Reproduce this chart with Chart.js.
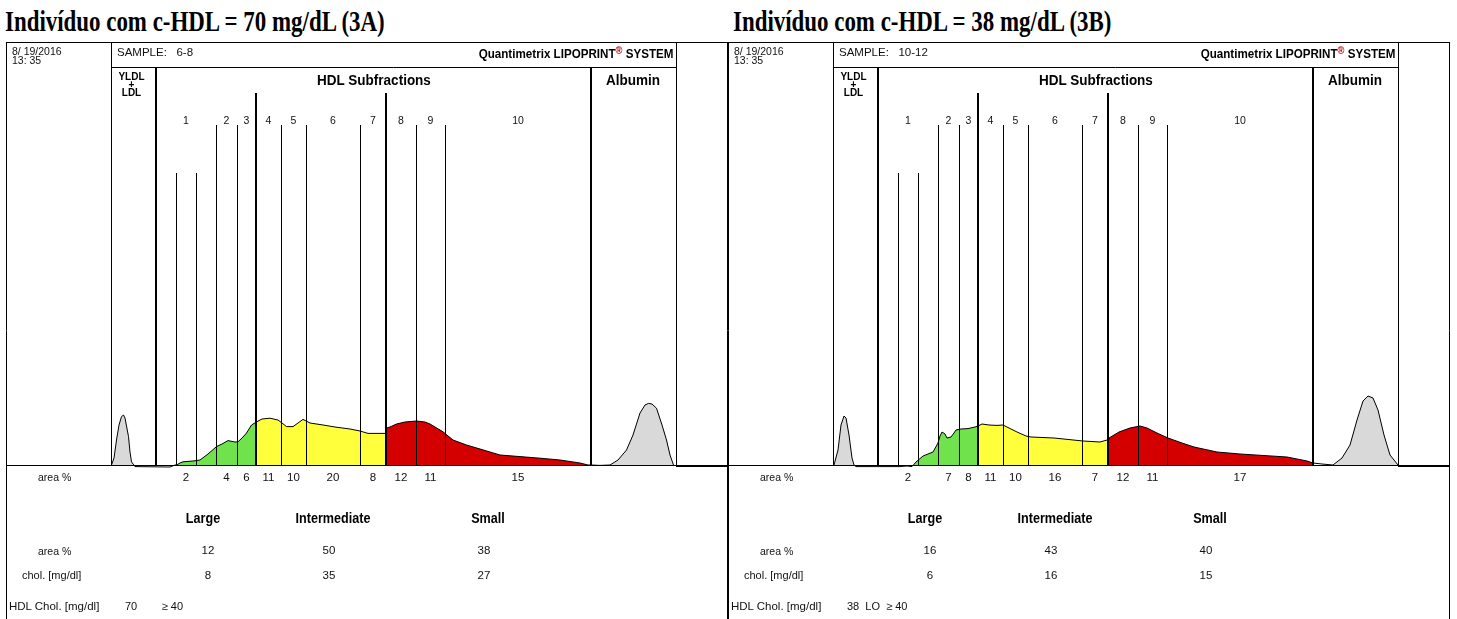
<!DOCTYPE html>
<html>
<head>
<meta charset="utf-8">
<script src="https://cdn.jsdelivr.net/npm/chart.js@4.4.1/dist/chart.umd.min.js"></script>
<style>
  body { margin: 0; background: #fff; width: 1457px; height: 619px; overflow: hidden; position: relative;
         font-family: "Liberation Sans", Arial, sans-serif; color: #111; }
  .title { position: absolute; top: 7px; font-family: "Liberation Serif", "Times New Roman", serif; font-weight: bold;
           font-size: 29px; line-height: 1; white-space: nowrap; color: #000;
           transform: scaleX(0.79); transform-origin: left top; }
  .panel { position: absolute; top: 0; width: 722px; height: 619px; }
  .panel canvas { position: absolute; left: 0; top: 42px; }
  .t { position: absolute; white-space: nowrap; font-size: 11px; line-height: 1; transform-origin: left top; }
  .c { transform: translateX(-50%); transform-origin: center top; text-align: center; }
  .b { font-weight: bold; color: #000; }
  .reg { color: #b00000; font-size: 10px; vertical-align: 4px; }
</style>
</head>
<body>
<div class="title" style="left:5px">Indivíduo com c-HDL = 70 mg/dL (3A)</div>
<div class="title" style="left:733px">Indivíduo com c-HDL = 38 mg/dL (3B)</div>
<div class="panel" id="panelA" style="left:6px"><canvas id="chartA" width="722" height="577"></canvas></div>
<div class="panel" id="panelB" style="left:728px"><canvas id="chartB" width="722" height="577"></canvas></div>
<script>
// subfractions 1..10 on the migration axis
const fracLabels = ['1', '2', '3', '4', '5', '6', '7', '8', '9', '10'];
const fracStart = [34, 42, 46.2, 50, 55, 60, 70.8, 76, 82, 87.8];
const fracEnd = [38, 46.2, 50, 55, 60, 70.8, 76, 82, 87.8, 117];
const areaA = [2, 4, 6, 11, 10, 20, 8, 12, 11, 15];
const areaB = [2, 7, 8, 11, 10, 16, 7, 12, 11, 17];

// separator lines
const shortMarks = [34, 38];
const midMarks = [42, 46.2, 55, 60, 70.8, 82, 87.8];
const majorMarks = [50, 76];
const vldlEdge = 21, hdlStart = 30, hdlEnd = 117, albEnd = 134;

// coloured zones (vldl, large, intermediate, small, albumin)
const zoneStart = [21, 34, 50, 76, 118];
const zoneEnd = [26, 50, 76, 117, 135];

const groups = ['Large', 'Intermediate', 'Small'];
const groupAreaA = [12, 50, 38];
const groupCholA = [8, 35, 27];
const groupAreaB = [16, 43, 40];
const groupCholB = [6, 16, 15];

// densitometry scans
const scanAx = [21.1,21.6,22.1,22.6,23.1,23.5,23.8,24.5,24.8,25.1,25.8,32.8,33.8,34.1,34.8,35.4,37.4,38.8,40.4,42.1,
  43.2,44.4,45.8,46.4,47.4,48.1,49.1,50,51.2,52.8,54.4,55.2,56.1,57.4,58.4,59.4,60.8,63.4,65.8,68.8,
  70.8,72.4,76,76.1,76.8,78.1,79.8,82.1,83.8,84.8,87.4,89.4,92.1,94.8,98.8,102.8,106.8,110.8,114.8,116.4,
  117,118.8,120.8,122.4,124.1,125.4,126.8,127.8,128.5,129.2,130.1,131.2,132.1,132.8,133.5];
const scanAy = [0,1.75,6.25,10,12.1,12.5,11.75,7.1,3.25,0.8,-0.4,-0.5,0,0,0.5,0.8,1,1.25,2.75,4.6,
  5.25,6.1,5.75,5.8,7,8,10,10.7,11.5,11.7,11.25,10.5,9.6,9.6,10.5,11.4,10.5,10,9.5,9,
  8.5,7.9,7.9,9.25,9.5,10.25,10.75,11,10.75,10.25,8.3,6.25,5,4,2.5,2.1,1.7,1.25,0.5,0,
  0,-0.1,0,1.25,3.75,7.5,13,15,15.4,15.25,14.2,10,6.25,2.5,0];
const scanBx = [21.2,22,22.6,23.2,23.6,24.2,24.8,25.2,25.6,34.4,35.8,36.8,37.6,39,41,42,42.4,42.8,43.4,43.8,
  44.6,45.2,45.6,46.6,48,49.4,50,50.8,52.2,53.8,55,55.8,57.8,59.6,60.6,65.2,71,74.4,75.8,76,
  76.2,78.2,80.4,82.4,83.8,85.8,88,90.8,93.2,97.8,102.4,106.8,111.8,115.8,117,118.8,121,122.8,124.4,125.8,
  127,128,129,130,131.2,132.4,134];
const scanBy = [0,3.75,10,12.25,11.75,7.5,1.75,0,-0.4,-0.4,-0.25,-0.4,0.75,2.25,3.25,5.5,7.25,8.25,7.75,6.75,
  7,8,8.75,9,9.1,9.5,9.75,10.25,10,9.9,10,9.5,8.25,7.25,7,6.75,6,5.75,6.25,6.25,
  6.75,8.25,9.25,9.75,9.25,8,6.75,5.5,4.5,3.25,2.75,2.4,2,1,0.5,0.25,0,1.75,5,11.25,
  16,17.25,16.75,13.75,7.5,2.5,0];

const zoneColors = ['#d9d9d9', '#70e34c', '#ffff3c', '#d40000', '#d9d9d9'];

function zoneColor(v) {
  for (let i = 0; i < zoneStart.length; i++) {
    if (v >= zoneStart[i] && v <= zoneEnd[i]) return zoneColors[i];
  }
  return 'rgba(0,0,0,0)';
}

const framePlugin = {
  id: 'frame',
  afterDatasetsDraw(chart) {
    const { ctx, width, height } = chart;
    const x = chart.scales.x, y = chart.scales.y;
    const base = Math.round(y.getPixelForValue(0));
    const head = 25;
    const px = v => Math.round(x.getPixelForValue(v));
    const line = (x1, y1, x2, y2, w) => {
      ctx.lineWidth = w;
      ctx.beginPath();
      ctx.moveTo(x1, y1);
      ctx.lineTo(x2, y2);
      ctx.stroke();
    };
    ctx.save();
    ctx.strokeStyle = '#000';
    // outer box
    line(0.5, 0, 0.5, height, 1);
    line(width - 0.5, 0, width - 0.5, height, 1);
    line(0, 0.5, width, 0.5, 1);
    // header box + columns
    line(px(vldlEdge), head + 0.5, px(albEnd), head + 0.5, 1);
    line(px(vldlEdge) + 0.5, 0, px(vldlEdge) + 0.5, base, 1);
    line(px(albEnd) + 0.5, 0, px(albEnd) + 0.5, base, 1);
    line(px(hdlStart), head, px(hdlStart), base, 2);
    line(px(hdlEnd), head, px(hdlEnd), base, 2);
    // subfraction separators
    shortMarks.forEach(v => line(px(v) + 0.5, y.getPixelForValue(73), px(v) + 0.5, base, 1));
    midMarks.forEach(v => line(px(v) + 0.5, y.getPixelForValue(85), px(v) + 0.5, base, 1));
    majorMarks.forEach(v => line(px(v), y.getPixelForValue(93), px(v), base, 2));
    // baseline
    line(0, base + 0.5, width, base + 0.5, 1);
    line(px(albEnd), base + 1.5, width, base + 1.5, 1);
    ctx.restore();
  }
};

function makeChart(id, xs, ys) {
  return new Chart(document.getElementById(id), {
    type: 'line',
    data: {
      datasets: [{
        data: xs.map((v, i) => ({ x: v, y: ys[i] })),
        borderColor: '#000',
        borderWidth: 1,
        pointRadius: 0,
        tension: 0,
        fill: 'origin',
        clip: false,
        segment: {
          backgroundColor: c => zoneColor((c.p0.parsed.x + c.p1.parsed.x) / 2)
        }
      }]
    },
    options: {
      responsive: false,
      animation: false,
      events: [],
      layout: { padding: { top: 23, bottom: 154, left: 0, right: 0 } },
      plugins: { legend: { display: false }, tooltip: { enabled: false } },
      scales: {
        x: { type: 'linear', min: 0, max: 144.4, display: false },
        y: { min: 0, max: 100, display: false }
      }
    },
    plugins: [framePlugin]
  });
}

function addText(panel, html, left, top, cls, extra) {
  const el = document.createElement('div');
  el.className = 't ' + (cls || '');
  el.innerHTML = html;
  el.style.left = left + 'px';
  el.style.top = top + 'px';
  if (extra) Object.assign(el.style, extra);
  panel.appendChild(el);
  return el;
}

function buildPanel(panelId, chart, sample, area, gArea, gChol, hdlHtml) {
  const p = document.getElementById(panelId);
  const sx = v => chart.scales.x.getPixelForValue(v);
  const squeeze = 'translateX(-50%) scaleX(0.9)';
  addText(p, '8/ 19/2016<br>13: 35', 6, 47, '', { lineHeight: '9px', fontSize: '10.5px' });
  addText(p, 'SAMPLE:&nbsp;&nbsp;&nbsp;' + sample, 111, 47, '', { fontSize: '11.5px' });
  addText(p, 'Quantimetrix LIPOPRINT<span class="reg">&reg;</span> SYSTEM', 0, 46, 'b',
    { left: 'auto', right: '55px', fontSize: '12.5px', transform: 'scaleX(0.93)', transformOrigin: 'right top' });
  addText(p, 'YLDL<br>+<br>LDL', sx((vldlEdge + hdlStart) / 2) - 2, 73, 'b c', { fontSize: '10px', lineHeight: '8px' });
  addText(p, 'HDL Subfractions', sx((hdlStart + hdlEnd) / 2), 72, 'b c', { fontSize: '15px', transform: squeeze });
  addText(p, 'Albumin', sx((hdlEnd + albEnd) / 2) - 1, 72, 'b c', { fontSize: '15px', transform: squeeze });
  fracLabels.forEach((f, i) => addText(p, f, sx((fracStart[i] + fracEnd[i]) / 2), 115, 'c', { fontSize: '10.5px' }));
  addText(p, 'area %', 32, 472, '', { fontSize: '10.5px' });
  area.forEach((a, i) => addText(p, a, sx((fracStart[i] + fracEnd[i]) / 2), 472, 'c', { fontSize: '11.5px' }));
  const gHead = [197, 327, 482], gVal = [202, 323, 478];
  groups.forEach((g, i) => addText(p, g, gHead[i], 511, 'b c', { fontSize: '14px', transform: squeeze }));
  addText(p, 'area %', 32, 546, '', { fontSize: '10.5px' });
  gArea.forEach((a, i) => addText(p, a, gVal[i], 545, 'c', { fontSize: '11.5px' }));
  addText(p, 'chol. [mg/dl]', 16, 570, '', { fontSize: '11px' });
  gChol.forEach((a, i) => addText(p, a, gVal[i], 570, 'c', { fontSize: '11.5px' }));
  addText(p, 'HDL Chol. [mg/dl]', 3, 601, '', { fontSize: '11.5px' });
  addText(p, hdlHtml, 119, 601, '', { fontSize: '11px' });
}

const chartA = makeChart('chartA', scanAx, scanAy);
const chartB = makeChart('chartB', scanBx, scanBy);
buildPanel('panelA', chartA, '6-8', areaA, groupAreaA, groupCholA, '70&nbsp;&nbsp;&nbsp;&nbsp;&nbsp;&nbsp;&nbsp;&nbsp;&ge; 40');
buildPanel('panelB', chartB, '10-12', areaB, groupAreaB, groupCholB, '38&nbsp; LO&nbsp; &ge; 40');
</script>
</body>
</html>
